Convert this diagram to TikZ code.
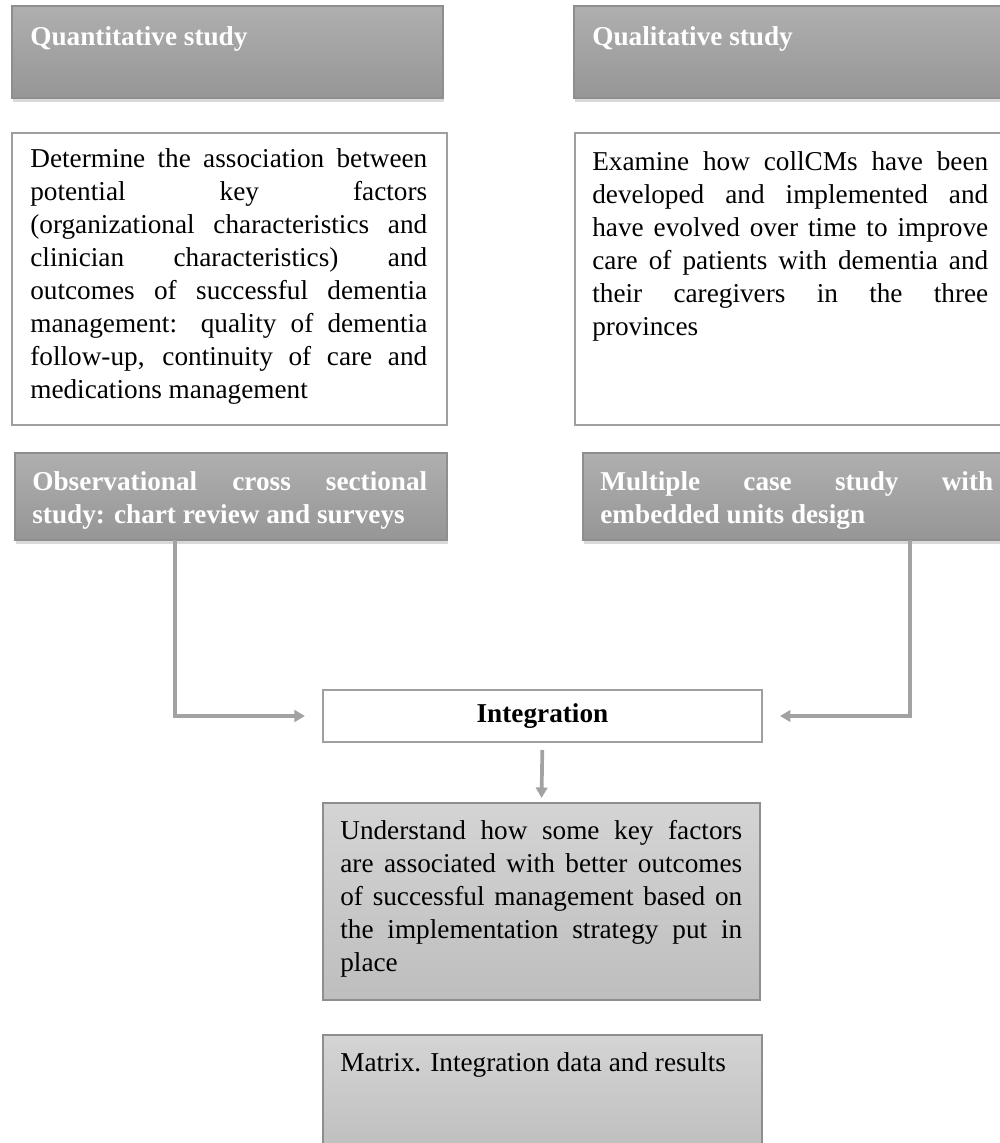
\documentclass[tikz,border=0pt]{standalone}
\usepackage{fontspec}
\setmainfont{Liberation Serif}
\usepackage{xcolor}
\usepackage{tikz}
\usetikzlibrary{positioning,arrows.meta,shadows}
\definecolor{headtop}{HTML}{AFAFAF}
\definecolor{headbot}{HTML}{969696}
\definecolor{restop}{HTML}{D4D4D4}
\definecolor{resbot}{HTML}{BEBEBE}
\definecolor{framegray}{HTML}{8E8E8E}
\definecolor{linkgray}{HTML}{A2A2A2}

\begin{document}
\begin{tikzpicture}[x=0.02cm, y=-0.02cm,
  every node/.style={font=\fontsize{15.5}{18.8}\selectfont},
  panel/.style={draw=framegray, line width=0.8pt, anchor=north west, inner sep=0pt, outer sep=0pt},
  headbox/.style={panel, top color=headtop, bottom color=headbot, drop shadow={shadow xshift=0.6pt, shadow yshift=-2.5pt, opacity=0.3}},
  plainbox/.style={panel, draw=framegray!85, fill=white},
  resbox/.style={panel, top color=restop, bottom color=resbot},
  headtext/.style={text=white, font=\fontsize{15.5}{18.8}\selectfont\bfseries, inner sep=0pt, anchor=north west, align=justify},
  bodytext/.style={inner sep=0pt, anchor=north west, align=justify},
  link/.style={draw=linkgray, line width=2.1pt, -{Triangle[length=6pt, width=6.5pt]}},
  ]
  \useasboundingbox (0,0) rectangle (1000,1143);

  % top row
  \node[headbox, minimum width=8.62cm, minimum height=1.84cm] (quanthead) at (12,6) {};
  \node[headtext, below right=0.41cm and 0.36cm of quanthead.north west] (quanttitle) {Quantitative study};
  \node[headbox, minimum width=8.68cm, minimum height=1.84cm] (qualhead) at (574,6) {};
  \node[headtext, below right=0.41cm and 0.36cm of qualhead.north west] (qualtitle) {Qualitative study};

  % aims
  \node[plainbox, minimum width=8.7cm, minimum height=5.84cm] (quantaim) at (12,133) {};
  \node[bodytext, text width=7.94cm, below right=0.31cm and 0.36cm of quantaim.north west] (quantaimtext)
    {Determine the association between\linebreak potential key factors\linebreak (organizational characteristics and\linebreak clinician characteristics) and\linebreak outcomes of successful dementia\linebreak management: quality of dementia\linebreak follow-up, continuity of care and\linebreak medications management};
  \node[plainbox, minimum width=8.66cm, minimum height=5.84cm] (qualaim) at (575,133) {};
  \node[bodytext, text width=7.92cm, below right=0.36cm and 0.34cm of qualaim.north west] (qualaimtext)
    {Examine how collCMs have been\linebreak developed and implemented and\linebreak have evolved over time to improve\linebreak care of patients with dementia and\linebreak their caregivers in the three\linebreak provinces};

  % designs
  \node[headbox, minimum width=8.64cm, minimum height=1.74cm] (quantdesign) at (15,453) {};
  \node[headtext, text width=7.9cm, below right=0.36cm and 0.34cm of quantdesign.north west] (quantdesigntext)
    {Observational cross sectional\linebreak study: chart review and surveys};
  \node[headbox, minimum width=8.54cm, minimum height=1.74cm] (qualdesign) at (583,453) {};
  \node[headtext, text width=7.86cm, below right=0.36cm and 0.34cm of qualdesign.north west] (qualdesigntext)
    {Multiple case study with\linebreak embedded units design};

  % integration
  \node[plainbox, minimum width=8.78cm, minimum height=1.04cm, font=\fontsize{15.5}{18.8}\selectfont\bfseries] (integ) at (323,690) {Integration};
  \node[resbox, minimum width=8.74cm, minimum height=3.94cm] (result) at (323,803) {};
  \node[bodytext, text width=8.04cm, below right=0.34cm and 0.34cm of result.north west] (resulttext)
    {Understand how some key factors\linebreak are associated with better outcomes\linebreak of successful management based on\linebreak the implementation strategy put in\linebreak place};
  \node[resbox, minimum width=8.78cm, minimum height=2.4cm] (matrix) at (323,1035) {};
  \node[bodytext, below right=0.34cm and 0.34cm of matrix.north west] (matrixtext)
    {Matrix. Integration data and results};

  % connectors
  \draw[link, shorten >=0.36cm] ([xshift=3.2cm]quantdesign.south west) |- (integ.west);
  \draw[link, shorten >=0.36cm] ([xshift=6.54cm]qualdesign.south west) |- (integ.east);
  \draw[link, shorten <=0.16cm, shorten >=0.1cm] (integ.south) -- (result.north);
\end{tikzpicture}
\end{document}
